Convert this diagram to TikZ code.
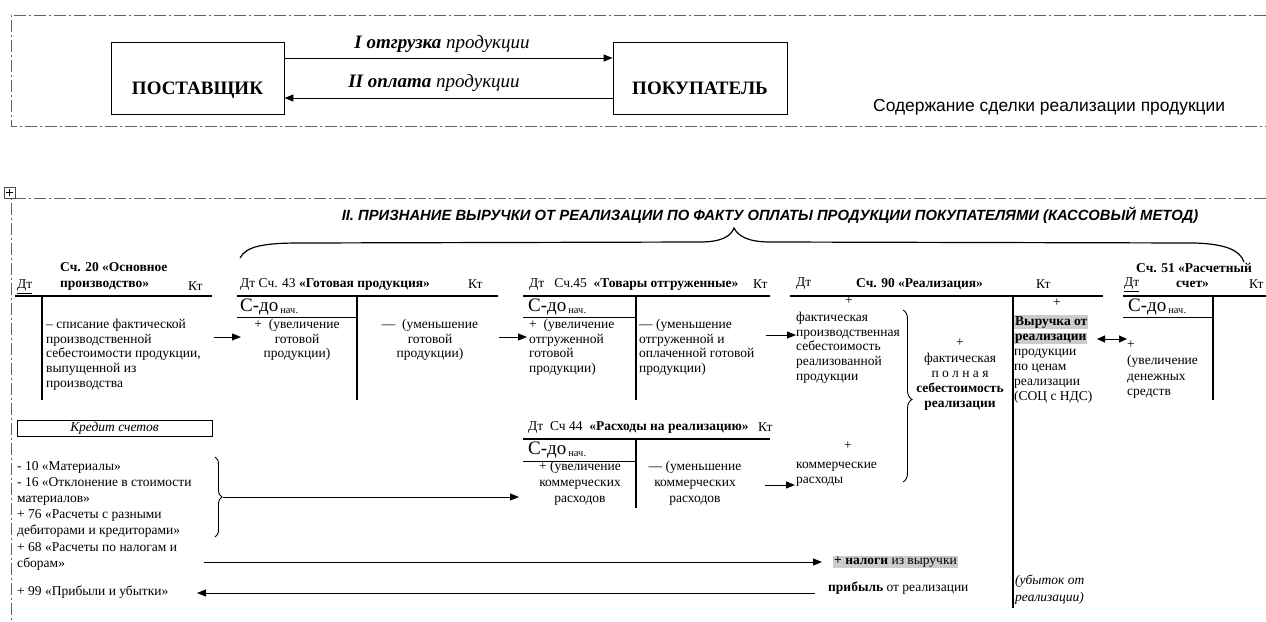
\documentclass[tikz,border=0pt]{standalone}
\usepackage{fontspec}
\setmainfont{Liberation Serif}
\newfontfamily\arialf{Liberation Sans}
\usetikzlibrary{arrows.meta,decorations.pathreplacing}
\definecolor{hlgray}{gray}{0.80}
\definecolor{dashgray}{gray}{0.38}
\newcommand{\sdo}{{\fontsize{19}{19}\selectfont С-до}\kern2pt{\fontsize{10.5}{10.5}\selectfont\raisebox{-2pt}{нач.}}}
\newcommand{\hlt}[1]{{\setlength{\fboxsep}{1pt}\colorbox{hlgray}{#1}}}
\tikzset{
 ddot/.style={draw=dashgray,line width=1pt,dash pattern=on 12pt off 3pt on 2pt off 3pt},
 tacc/.style={line width=2pt},
 vacc/.style={line width=1.5pt},
 thinl/.style={line width=0.9pt},
 arr/.style={-{Triangle[length=9pt,width=7pt]},line width=1pt},
 body/.style={inner sep=0pt,font=\fontsize{13.5}{14.7}\selectfont,align=left,anchor=north west},
 bodyc/.style={body,align=center,anchor=north},
 hdr/.style={inner sep=0pt,font=\fontsize{13.5}{15}\selectfont,anchor=west},
 hdrb/.style={hdr,font=\fontsize{13.5}{16}\selectfont\bfseries},
 party/.style={draw,thinl,minimum width=173pt,minimum height=72pt,inner sep=0pt,
   font=\fontsize{19}{19}\selectfont\bfseries,text height=34pt,text depth=2pt},
 brc/.style={thinl,decorate},
 toplab/.style={inner sep=0pt,font=\fontsize{19}{19}\selectfont\itshape},
}
\begin{document}
\begin{tikzpicture}[x=1pt,y=-1pt]
\useasboundingbox (0,0) rectangle (1266,621);
% ---------- top section ----------
\draw[ddot] (1266,15) -- (11,15) -- (11,126) -- (1266,126);
\node[party] (post) at (197.5,78) {ПОСТАВЩИК};
\node[party,minimum width=174pt] (buy) at (700,78) {ПОКУПАТЕЛЬ};
\draw[arr] ([yshift=20pt]post.east) -- ([yshift=20pt]buy.west);
\draw[arr] ([yshift=-20pt]buy.west) -- ([yshift=-20pt]post.east);
\node[toplab] (lab1) at (442,44) {\textbf{I отгрузка} продукции};
\node[toplab] (lab2) at (434,83) {\textbf{II оплата} продукции};
\node[anchor=west,inner sep=0pt,font=\arialf\fontsize{17.4}{17.4}\selectfont] (cap) at (873,107) {Содержание сделки реализации продукции};
% ---------- lower section ----------
\draw[ddot] (1266,198) -- (11,198) -- (11,621);
\draw[line width=0.6pt,black!70] (4,187) rectangle (15,198);
\draw[line width=0.6pt] (9.5,189) -- (9.5,196) (6,192.5) -- (13,192.5);
\node[inner sep=0pt,font=\arialf\bfseries\itshape\fontsize{14.8}{14.8}\selectfont] (title) at (770,215)
 {II. ПРИЗНАНИЕ ВЫРУЧКИ ОТ РЕАЛИЗАЦИИ ПО ФАКТУ ОПЛАТЫ ПРОДУКЦИИ ПОКУПАТЕЛЯМИ (КАССОВЫЙ МЕТОД)};
\draw[line width=1.2pt] (240,258) .. controls (246,246) and (265,243) .. (300,243) -- (700,242)
  .. controls (722,242) and (731,236) .. (734,228) .. controls (738,236) and (748,242) .. (770,242)
  -- (1195,243) .. controls (1225,244) and (1240,250) .. (1244,262);
% ----- account 20
\node[hdr] (d20) at (17,287) {\underline{Дт}};
\node[hdrb,align=left] (h20) at (60,276) {Сч. 20 «Основное\\производство»};
\node[hdr] (k20) at (188,286) {Кт};
\draw[tacc] (15,296) -- (212,296);
\draw[vacc] (42,296) -- (42,400);
\node[body] (t20) at (46,319) {– списание фактической\\производственной\\себестоимости продукции,\\выпущенной из\\производства};
% ----- account 43
\node[hdr] (h43) at (240,284) {Дт Сч. 43 \textbf{«Готовая продукция»}};
\node[hdr] (k43) at (468,284) {Кт};
\draw[tacc] (237,296) -- (498,296);
\draw[vacc] (357,296) -- (357,400);
\node[hdr] (s43) at (240,307) {\sdo};
\draw[thinl] (237,317) -- (357,317);
\node[bodyc] (p43) at (297,319) {+\ \ (увеличение\\готовой\\продукции)};
\node[bodyc] (m43) at (430,319) {—\ \ (уменьшение\\готовой\\продукции)};
\coordinate (a1s) at (214,337); \coordinate (a1e) at (241,337);
\draw[arr] (a1s) -- (a1e);
% ----- account 45
\node[hdr] (h45) at (529,284) {Дт\ \ \ Сч.45\ \ \textbf{«Товары отгруженные»}};
\node[hdr] (k45) at (753,284) {Кт};
\draw[tacc] (523,296) -- (770,296);
\draw[vacc] (636,296) -- (636,400);
\node[hdr] (s45) at (528,307) {\sdo};
\draw[thinl] (523,317) -- (636,317);
\node[body] (p45) at (529,319) {+\ \ (увеличение\\отгруженной\\готовой\\продукции)};
\node[body] (m45) at (639,319) {—\ (уменьшение\\отгруженной и\\оплаченной готовой\\продукции)};
\coordinate (a2s) at (499,337); \coordinate (a2e) at (527,337);
\draw[arr] (a2s) -- (a2e);
% ----- account 90
\node[hdr] (d90) at (796,284) {Дт};
\node[hdrb] (h90) at (856,284) {Сч. 90 «Реализация»};
\node[hdr] (k90) at (1036,284) {Кт};
\draw[tacc] (790,296) -- (1103,296);
\draw[vacc] (1013,296) -- (1013,608);
\node[bodyc] (pl90) at (849,297) {+};
\node[body] (f90) at (796,312) {фактическая\\производственная\\себестоимость\\реализованной\\продукции};
\coordinate (a3s) at (766,335); \coordinate (a3e) at (796,335);
\draw[arr] (a3s) -- (a3e);
\draw[brc,decoration={brace,amplitude=9pt,aspect=0.52}] (903,310) -- (903,482);
\node[bodyc,font=\fontsize{13.5}{15.2}\selectfont] (c90) at (960,339) {+\\фактическая\\п о л н а я\\\textbf{себестоимость}\\\textbf{реализации}};
\node[bodyc] (pr90) at (1057,299) {+};
\node[body,font=\fontsize{13.5}{15}\selectfont] (v90) at (1014,315) {\hlt{\textbf{Выручка от}}\\\hlt{\textbf{реализации}}\\продукции\\по ценам\\реализации\\(СОЦ с НДС)};
\draw[{Triangle[length=8pt,width=7pt]}-{Triangle[length=8pt,width=7pt]},line width=1pt] (1097,339) -- (1127,339);
% ----- account 51
\node[hdrb] (h51) at (1136,268) {Сч. 51 «Расчетный};
\node[hdr] (d51) at (1124,285) {\underline{Дт}};
\node[hdrb] (h51b) at (1176,284) {счет»};
\node[hdr] (k51) at (1249,284) {Кт};
\draw[tacc] (1123,296) -- (1266,296);
\draw[vacc] (1213,296) -- (1213,400);
\node[hdr] (s51) at (1128,307) {\sdo};
\draw[thinl] (1123,317) -- (1213,317);
\node[hdr] (pl51) at (1127,345) {+};
\node[body,font=\fontsize{13.5}{15.5}\selectfont] (t51) at (1127,355) {(увеличение\\денежных\\средств};
% ----- credit accounts
\node[draw,thinl,minimum width=195pt,minimum height=16pt,inner sep=0pt,font=\fontsize{13.5}{13.5}\selectfont\itshape] (kred) at (114.5,428.5) {Кредит счетов};
\node[body,font=\fontsize{13.5}{16.2}\selectfont] (list) at (17,461) {- 10 «Материалы»\\- 16 «Отклонение в стоимости\\материалов»\\+ 76 «Расчеты с разными\\дебиторами и кредиторами»\\+ 68 «Расчеты по налогам и\\сборам»};
\node[hdr] (l99) at (17,592) {+ 99 «Прибыли и убытки»};
\draw[brc,decoration={brace,amplitude=7pt}] (215,457) -- (215,537);
\coordinate (bt) at (223,497); \coordinate (e44) at (519,497);
\draw[arr] (bt) -- (e44);
% ----- account 44
\node[hdr] (h44) at (528,427) {Дт\ \ Сч 44\ \ \textbf{«Расходы на реализацию»}};
\node[hdr] (k44) at (758,427) {Кт};
\draw[tacc] (523,439) -- (770,439);
\draw[vacc] (636,439) -- (636,508);
\node[hdr] (s44) at (528,450) {\sdo};
\draw[thinl] (523,461) -- (636,461);
\node[bodyc,font=\fontsize{13.5}{16}\selectfont] (p44) at (580,461) {+ (увеличение\\коммерческих\\расходов};
\node[bodyc,font=\fontsize{13.5}{16}\selectfont] (m44) at (695,461) {— (уменьшение\\коммерческих\\расходов};
\coordinate (a4s) at (765,485); \coordinate (a4e) at (795,485);
\draw[arr] (a4s) -- (a4e);
\node[bodyc] (pl44) at (848,442) {+};
\node[body,font=\fontsize{13.5}{15}\selectfont] (kom) at (796,462) {коммерческие\\расходы};
% ----- taxes and profit
\coordinate (s68) at (204,562);
\node[hdr] (nal) at (833,562) {\hlt{\textbf{+ налоги} из выручки}};
\draw[arr] (s68) -- ([xshift=-11pt]nal.west);
\node[hdr] (prib) at (828,588) {\textbf{прибыль} от реализации};
\coordinate (s99) at (815,593);
\coordinate (e99) at (197,593);
\draw[arr] (s99) -- (e99);
\node[body,font=\fontsize{13.5}{17}\selectfont\itshape] (ub) at (1015,575) {(убыток от\\реализации)};
\end{tikzpicture}
\end{document}
